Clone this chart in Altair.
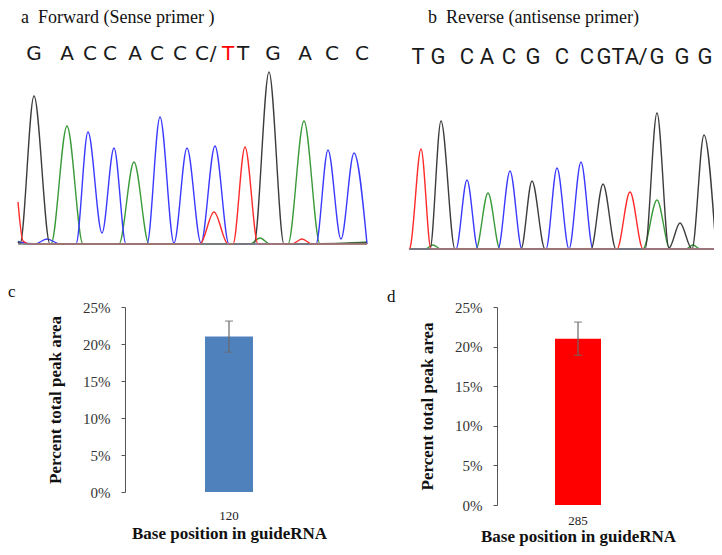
import altair as alt
import pandas as pd

# ---------------- data ----------------
# Panel a chromatogram traces (scan position, signal), one trace per base
a_G_x = [18, 20, 34, 50, 254, 269, 284, 367]
a_G_y = [2, 0, 148, 0, 0, 172, 0, 1]
a_A_x = [18, 25, 51, 67, 83, 119, 134, 149, 250, 260, 270, 288, 304, 320, 367]
a_A_y = [3, 0, 0, 118, 0, 0, 82, 0, 0, 6, 0, 0, 123, 0, 2]
a_C_x = [18, 35, 47, 60, 76, 88, 102, 114, 126, 147, 160, 174, 187, 201, 215, 229, 316, 328, 341, 354, 367]
a_C_y = [2, 0, 5, 0, 0, 112, 11, 96, 0, 0, 127, 1, 96, 1, 98, 0, 0, 94, 5, 91, 0]
a_T_x = [18, 23, 30, 200, 214, 228, 233, 245, 258, 292, 302, 312, 367]
a_T_y = [42, 3, 0, 0, 32, 0, 0, 97, 0, 0, 5, 0, 0]

# Panel b chromatogram traces
b_G_x = [409, 430, 441, 455, 521, 532, 545, 591, 603, 616, 645, 657, 669, 680, 692, 704, 716]
b_G_y = [0, 0, 128, 0, 0, 68, 0, 0, 65, 0, 0, 136, 1, 26, 0, 114, 0]
b_A_x = [409, 425, 433, 441, 476, 488, 500, 643, 657, 670, 686, 693, 700, 716]
b_A_y = [0, 0, 4, 0, 0, 56, 0, 0, 49, 0, 0, 4, 0, 0]
b_C_x = [409, 456, 467, 478, 498, 510, 522, 546, 557, 569, 581, 593, 716]
b_C_y = [0, 0, 69, 0, 0, 78, 0, 0, 81, 0, 87, 0, 0]
b_T_x = [409, 410, 421, 431, 617, 630, 643, 716]
b_T_y = [0, 1, 100, 0, 0, 57, 0, 0]

# Base calls above the traces
a_letters = ["G", "A", "C", "C", "A", "C", "C", "C", "/", "T", "T", "G", "A", "C", "C"]
a_letter_x = [34, 67, 90, 110, 135, 157, 180, 202, 213, 228, 243, 273, 305, 332, 362]
a_highlight = [9]
b_letters = ["T", "G", "C", "A", "C", "G", "C", "C", "G", "T", "A", "/", "G", "G", "G"]
b_letter_x = [418, 438, 467, 487, 509, 533, 562, 587, 604, 618, 632, 643, 657, 682, 705]

# Bar panels
c_pos = ["120"]
c_val = [0.21]
c_err = [0.021]
d_pos = ["285"]
d_val = [0.21]
d_err = [0.021]

# ---------------- style ----------------
BASES = ["A", "C", "G", "T"]
BASE_COLORS = ["#3a9a3a", "#3a3aff", "#3c3c3c", "#ff2a2a"]
SERIF = "Liberation Serif"
W, H = 706, 539


def traces(xs, ys, xdom, xrng, yrng):
    rows = []
    for base in BASES:
        for x, y in zip(xs[base], ys[base]):
            rows.append({"base": base, "x": x, "y": y})
    df = pd.DataFrame(rows)
    xsc = alt.Scale(domain=xdom, range=xrng, nice=False, zero=False)
    ysc = alt.Scale(domain=[0, 180], range=yrng, nice=False)
    base_df = pd.DataFrame({"x": [xdom[0]], "x2": [xdom[1]], "y": [0]})
    baseline = alt.Chart(base_df).mark_rule(color="#8a8a8a", strokeWidth=1.5).encode(
        x=alt.X("x:Q", scale=xsc, axis=None),
        x2="x2:Q",
        y=alt.Y("y:Q", scale=ysc, axis=None),
    )
    lines = alt.Chart(df).mark_line(interpolate="monotone", strokeWidth=1.4).encode(
        x=alt.X("x:Q", scale=xsc, axis=None),
        y=alt.Y("y:Q", scale=ysc, axis=None),
        color=alt.Color("base:N", scale=alt.Scale(domain=BASES, range=BASE_COLORS), legend=None),
    )
    return lines, baseline


def letters(chars, xs, hl, xdom, xrng, ypix, font, size):
    df = pd.DataFrame({"ch": chars, "x": xs, "hl": [i in hl for i in range(len(chars))]})
    return alt.Chart(df).mark_text(font=font, fontSize=size, baseline="middle", align="center").encode(
        x=alt.X("x:Q", scale=alt.Scale(domain=xdom, range=xrng, nice=False, zero=False), axis=None),
        y=alt.value(ypix),
        text="ch:N",
        color=alt.condition("datum.hl", alt.value("#ff0000"), alt.value("#1a1a1a")),
    )


def label(txt, xpix, ypix, size, weight="normal"):
    return alt.Chart(pd.DataFrame({"t": [txt]})).mark_text(
        font=SERIF, fontSize=size, fontWeight=weight, align="left", baseline="middle", color="#111"
    ).encode(x=alt.value(xpix), y=alt.value(ypix), text="t:N")


def barpanel(pos, val, err, color, xrng, yrng, axis_x, axis_y, lab_pad, title_y, barw):
    df = pd.DataFrame({"pos": pos, "val": val,
                       "lo": [v - e for v, e in zip(val, err)],
                       "hi": [v + e for v, e in zip(val, err)]})
    caps = pd.DataFrame({"pos": pos * 2,
                         "v": [v - e for v, e in zip(val, err)] + [v + e for v, e in zip(val, err)]})
    xsc = alt.Scale(domain=pos, range=xrng)
    ysc = alt.Scale(domain=[0, 0.25], range=yrng, nice=False)
    bar = alt.Chart(df).mark_bar(color=color, width=barw).encode(
        x=alt.X("pos:N", scale=xsc, axis=alt.Axis(
            orient="bottom", offset=-(H - axis_y), domain=False, ticks=False, tickSize=0,
            labelPadding=lab_pad, labelFont=SERIF, labelFontSize=13, labelColor="#222",
            labelAngle=0, grid=False,
            title="Base position in guideRNA", titleFont=SERIF, titleFontSize=17,
            titleFontWeight="bold", titleColor="#111", titleY=title_y, titleBaseline="middle")),
        y=alt.Y("val:Q", scale=ysc, axis=alt.Axis(
            orient="left", offset=-axis_x, values=[0, 0.05, 0.1, 0.15, 0.2, 0.25], format=".0%",
            grid=False, domainColor="#555", tickColor="#555", tickSize=4,
            labelPadding=11, labelFont=SERIF, labelFontSize=15, labelColor="#333",
            title="Percent total peak area", titleFont=SERIF, titleFontSize=17,
            titleFontWeight="bold", titleColor="#111", titleX=-70, titleBaseline="middle",
            titleAngle=270)),
    )
    rule = alt.Chart(df).mark_rule(color="#6a6a6a", strokeWidth=1.2).encode(
        x=alt.X("pos:N", scale=xsc, axis=None),
        y=alt.Y("lo:Q", scale=ysc, axis=None),
        y2="hi:Q",
    )
    cap = alt.Chart(caps).mark_tick(color="#6a6a6a", size=8, thickness=1.2, orient="horizontal").encode(
        x=alt.X("pos:N", scale=xsc, axis=None),
        y=alt.Y("v:Q", scale=ysc, axis=None),
    )
    return bar, rule, cap


aLines, aBase = traces({"G": a_G_x, "A": a_A_x, "C": a_C_x, "T": a_T_x},
                       {"G": a_G_y, "A": a_A_y, "C": a_C_y, "T": a_T_y},
                       [18, 367], [10, 359], [236, 56])
bLines, bBase = traces({"G": b_G_x, "A": b_A_x, "C": b_C_x, "T": b_T_x},
                       {"G": b_G_y, "A": b_A_y, "C": b_C_y, "T": b_T_y},
                       [409, 716], [401, 708], [241, 61])
aLet = letters(a_letters, a_letter_x, a_highlight, [18, 367], [10, 359], 46, "DejaVu Sans", 20)
bLet = letters(b_letters, b_letter_x, [], [409, 716], [401, 708], 49, "Roboto", 22)

cBar, cRule, cCap = barpanel(c_pos, c_val, c_err, "#4f81bd", [117, 325], [484, 299], 117, 484, 17, 41, 48)
dBar, dRule, dCap = barpanel(d_pos, d_val, d_err, "#ff0000", [489, 651], [497, 299], 489, 497, 9, 31, 46)

chart = alt.layer(
    aLines, aBase, bLines, bBase, aLet, bLet,
    label("a\u00a0 Forward (Sense primer )", 13, 10, 18),
    label("b\u00a0 Reverse (antisense primer)", 420, 10, 18),
    label("c", 0, 284, 17),
    label("d", 379, 289, 17),
    cBar, cRule, cCap, dBar, dRule, dCap,
).resolve_scale(
    x="independent", y="independent", color="independent"
).properties(
    width=W, height=H, padding=0, autosize=alt.AutoSizeParams(type="none"), background="white"
).configure_view(stroke=None).configure_axis(
    labelFont=SERIF, titleFont=SERIF
)

chart.save("out.html", embed_options={"renderer": "svg", "actions": False})
